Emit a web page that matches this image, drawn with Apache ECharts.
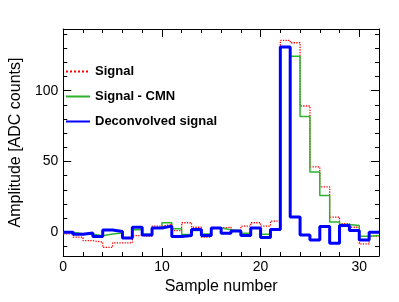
<!DOCTYPE html>
<html>
<head>
<meta charset="utf-8">
<script src="https://cdn.jsdelivr.net/npm/echarts@6/dist/echarts.min.js"></script>
<style>
  html, body { margin: 0; padding: 0; background: #fff; }
  #chart { width: 399px; height: 302px; }
</style>
</head>
<body>
<div id="chart"></div>
<script>
// bin left edges (sample index), one bin per sample
const samples = [0, 1, 2, 3, 4, 5, 6, 7, 8, 9, 10, 11, 12, 13, 14, 15,
  16, 17, 18, 19, 20, 21, 22, 23, 24, 25, 26, 27, 28, 29, 30, 31]

const signal = [-1.2, -3.5, -6, -7, -10.7, -7.5, -7.5, -2.4, -2.8, 4.3, 5.5, 1.2, 6.7, 3.5, -3.5, 3,
  3.5, 1.2, 4.3, 6.7, 4.3, 7.9, 135.5, 133.9, 89.2, 46.2, 32.1, 10.7, 6, 3.5, -8.3, -2.8]
const signalCmn = [0, -1, -1.5, -2.5, -1.2, -0.5, -4, 1.7, -1.5, 3, 6.7, 2.4, -1.6, 1.2, -1.2, 3,
  1.7, 1.2, -0.7, 3, -1.5, 1.7, 130.8, 124.4, 81.7, 42.5, 26, 7.2, 5.5, 4.8, -2.8, -2.4]
const deconvolved = [0, -1.5, -0.5, -3, 1.5, 0.5, -4, 3.5, -2, 3, 4.3, -3, -2.4, 2, -2.4, 3,
  -0.7, 0.8, -2.4, 3, -3.8, 2, 130.8, 10.7, -1.9, -5.5, 4.1, -7.8, 4.8, 1.2, -5.5, 0]

const xMajorTicks = [0, 10, 20, 30]
const xMinorTicks = [2, 4, 6, 8, 12, 14, 16, 18, 22, 24, 26, 28]
const yMajorTicks = [0, 50, 100]
const yMinorTicks = [-10, 10, 20, 30, 40, 60, 70, 80, 90, 110, 120, 130, 140]

const FONT = 'Liberation Sans'

// histogram as step line: one point per bin edge, last bin closed at its right edge
function toSteps(values) {
  const pts = samples.map((s, i) => [s, values[i]])
  pts.push([samples[samples.length - 1] + 1, values[values.length - 1]])
  return pts
}

function axis(kind, position, ticks, len, extra) {
  const base = {
    type: 'value',
    gridIndex: 0,
    position: position,
    min: kind === 'x' ? 0 : -16.8,
    max: kind === 'x' ? 32 : 143.6,
    axisLine: { show: false, onZero: false, lineStyle: { color: '#000', width: 1 } },
    splitLine: { show: false },
    axisTick: { show: true, inside: true, length: len, customValues: ticks, lineStyle: { color: '#000', width: 1 } },
    axisLabel: { show: false }
  }
  return Object.assign(base, extra || {})
}

const labelStyle = { show: true, color: '#000', fontFamily: FONT, fontSize: 14 }
const titleStyle = { color: '#000', fontFamily: FONT, fontSize: 16 }

const chart = echarts.init(document.getElementById('chart'))
chart.setOption({
  backgroundColor: '#fff',
  animation: false,
  grid: { left: 56, right: 20, top: 29, bottom: 46 },
  legend: {
    orient: 'vertical',
    left: 65,
    top: 65,
    padding: 0,
    itemWidth: 24,
    itemHeight: 14,
    itemGap: 12,
    itemStyle: { opacity: 0 },
    textStyle: { fontFamily: FONT, fontWeight: 'bold', fontSize: 13, color: '#000' },
    data: ['Signal', 'Signal - CMN', 'Deconvolved signal']
  },
  xAxis: [
    axis('x', 'bottom', xMajorTicks, 8, {
      axisLine: { show: true, onZero: false, lineStyle: { color: '#000', width: 1 } },
      axisLabel: Object.assign({ customValues: xMajorTicks, margin: 4 }, labelStyle),
      name: 'Sample number',
      nameLocation: 'middle',
      nameGap: 22,
      nameTextStyle: titleStyle
    }),
    axis('x', 'bottom', xMinorTicks, 4),
    axis('x', 'top', xMajorTicks, 8, {
      axisLine: { show: true, onZero: false, lineStyle: { color: '#000', width: 1 } }
    }),
    axis('x', 'top', xMinorTicks, 4)
  ],
  yAxis: [
    axis('y', 'left', yMajorTicks, 8, {
      axisLine: { show: true, onZero: false, lineStyle: { color: '#000', width: 1 } },
      axisLabel: Object.assign({ customValues: yMajorTicks, margin: 5 }, labelStyle),
      name: 'Amplitude [ADC counts]',
      nameLocation: 'middle',
      nameGap: 32,
      nameTextStyle: titleStyle
    }),
    axis('y', 'left', yMinorTicks, 4),
    axis('y', 'right', yMajorTicks, 8, {
      axisLine: { show: true, onZero: false, lineStyle: { color: '#000', width: 1 } }
    }),
    axis('y', 'right', yMinorTicks, 4)
  ],
  series: [
    {
      name: 'Signal',
      type: 'line',
      step: 'end',
      symbol: 'none',
      data: toSteps(signal),
      lineStyle: { color: '#ff0000', width: 1.3, type: 'dotted' },
      itemStyle: { color: '#ff0000' }
    },
    {
      name: 'Signal - CMN',
      type: 'line',
      step: 'end',
      symbol: 'none',
      data: toSteps(signalCmn),
      lineStyle: { color: '#2db32d', width: 1.5 },
      itemStyle: { color: '#2db32d' }
    },
    {
      name: 'Deconvolved signal',
      type: 'line',
      step: 'end',
      symbol: 'none',
      data: toSteps(deconvolved),
      lineStyle: { color: '#0000ff', width: 3 },
      itemStyle: { color: '#0000ff' }
    }
  ]
})
</script>
</body>
</html>
